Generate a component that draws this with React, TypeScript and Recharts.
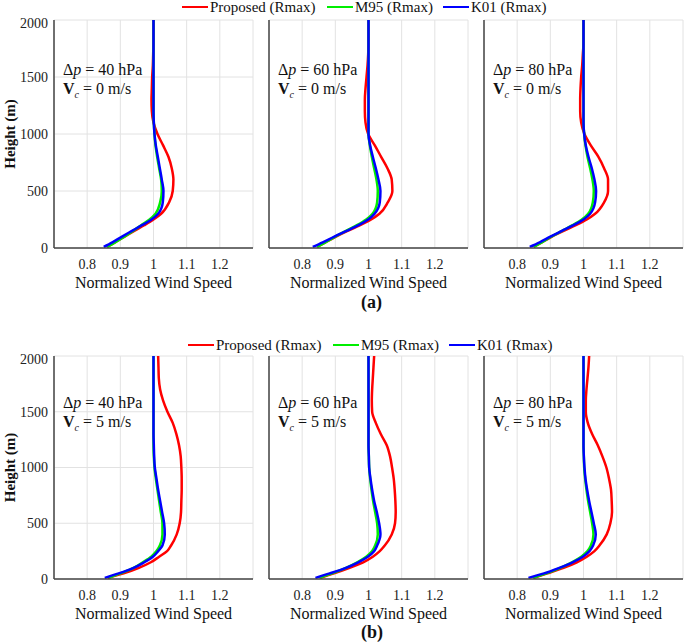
import React from "react";
import { LineChart, Line, XAxis, YAxis, CartesianGrid, Label } from "recharts";

const HEIGHTS = [10, 50, 100, 150, 200, 250, 300, 400, 500, 600, 700, 800, 900, 1000, 1100, 1200, 1300, 1400, 1500, 1600, 1700, 1800, 1900, 2000];

const SPEED_TICKS = [0.8, 0.9, 1, 1.1, 1.2];
const HEIGHT_TICKS = [0, 500, 1000, 1500, 2000];
const DP_LABELS = [40, 60, 80];
const VC_LABELS = [0, 5];
const ROW_TAGS = ["(a)", "(b)"];
const SERIES_NAMES = ["Proposed (Rmax)", "M95 (Rmax)", "K01 (Rmax)"];
const SERIES_COLORS = ["#ff0000", "#00ee00", "#0000ff"];

// (a) Vc = 0 m/s
const proposed40v0 = [0.86, 0.884, 0.913, 0.942, 0.972, 1.0, 1.023, 1.047, 1.058, 1.06, 1.055, 1.045, 1.029, 1.012, 1.0, 0.995, 0.994, 0.995, 0.996, 0.998, 0.999, 1.0, 1.0, 1.0];
const m95_40v0 = [0.86, 0.884, 0.912, 0.938, 0.963, 0.988, 1.006, 1.02, 1.025, 1.023, 1.017, 1.011, 1.006, 1.003, 1.001, 1.0, 1.0, 1.0, 1.0, 1.0, 1.0, 1.0, 1.0, 1.0];
const k01_40v0 = [0.85, 0.876, 0.905, 0.935, 0.965, 0.994, 1.014, 1.028, 1.03, 1.025, 1.019, 1.013, 1.007, 1.003, 1.001, 1.0, 1.0, 1.0, 1.0, 1.0, 1.0, 1.0, 1.0, 1.0];

const proposed60v0 = [0.845, 0.87, 0.902, 0.937, 0.975, 1.008, 1.033, 1.058, 1.072, 1.07, 1.057, 1.038, 1.019, 0.999, 0.991, 0.989, 0.989, 0.991, 0.994, 0.997, 0.999, 1.0, 1.0, 1.0];
const m95_60v0 = [0.845, 0.87, 0.9, 0.932, 0.965, 0.993, 1.012, 1.026, 1.028, 1.024, 1.017, 1.01, 1.004, 1.0, 1.0, 1.0, 1.0, 1.0, 1.0, 1.0, 1.0, 1.0, 1.0, 1.0];
const k01_60v0 = [0.832, 0.862, 0.897, 0.934, 0.97, 0.999, 1.018, 1.034, 1.036, 1.03, 1.022, 1.013, 1.005, 1.0, 1.0, 1.0, 1.0, 1.0, 1.0, 1.0, 1.0, 1.0, 1.0, 1.0];

const proposed80v0 = [0.85, 0.874, 0.905, 0.94, 0.977, 1.01, 1.035, 1.062, 1.074, 1.074, 1.062, 1.045, 1.022, 1.003, 0.993, 0.99, 0.99, 0.991, 0.993, 0.996, 0.998, 1.0, 1.0, 1.0];
const m95_80v0 = [0.85, 0.874, 0.903, 0.935, 0.967, 0.995, 1.014, 1.028, 1.031, 1.027, 1.02, 1.012, 1.006, 1.002, 1.0, 1.0, 1.0, 1.0, 1.0, 1.0, 1.0, 1.0, 1.0, 1.0];
const k01_80v0 = [0.838, 0.868, 0.9, 0.935, 0.97, 1.0, 1.02, 1.035, 1.038, 1.033, 1.025, 1.015, 1.007, 1.002, 1.0, 1.0, 1.0, 1.0, 1.0, 1.0, 1.0, 1.0, 1.0, 1.0];

// (b) Vc = 5 m/s
const proposed40v5 = [0.862, 0.91, 0.956, 0.992, 1.017, 1.041, 1.053, 1.07, 1.079, 1.083, 1.084, 1.085, 1.085, 1.084, 1.082, 1.077, 1.069, 1.058, 1.042, 1.029, 1.02, 1.016, 1.015, 1.014];
const m95_40v5 = [0.865, 0.9, 0.94, 0.968, 0.993, 1.009, 1.019, 1.027, 1.027, 1.022, 1.017, 1.012, 1.007, 1.003, 1.001, 1.0, 1.0, 1.0, 1.0, 1.0, 1.0, 1.0, 1.0, 1.0];
const k01_40v5 = [0.853, 0.895, 0.94, 0.972, 0.998, 1.014, 1.027, 1.034, 1.032, 1.026, 1.02, 1.014, 1.009, 1.004, 1.002, 1.001, 1.0, 1.0, 1.0, 1.0, 1.0, 1.0, 1.0, 1.0];

const proposed60v5 = [0.855, 0.896, 0.943, 0.984, 1.013, 1.034, 1.049, 1.07, 1.08, 1.082, 1.081, 1.079, 1.076, 1.071, 1.065, 1.055, 1.037, 1.022, 1.011, 1.01, 1.011, 1.013, 1.015, 1.017];
const m95_60v5 = [0.852, 0.89, 0.932, 0.966, 0.993, 1.011, 1.02, 1.028, 1.026, 1.02, 1.014, 1.009, 1.005, 1.002, 1.001, 1.0, 1.0, 1.0, 1.0, 1.0, 1.0, 1.0, 1.0, 1.0];
const k01_60v5 = [0.84, 0.883, 0.932, 0.969, 0.998, 1.017, 1.026, 1.036, 1.032, 1.025, 1.017, 1.011, 1.006, 1.002, 1.001, 1.0, 1.0, 1.0, 1.0, 1.0, 1.0, 1.0, 1.0, 1.0];

const proposed80v5 = [0.85, 0.891, 0.94, 0.98, 1.01, 1.033, 1.048, 1.07, 1.081, 1.086, 1.085, 1.083, 1.077, 1.069, 1.057, 1.043, 1.026, 1.013, 1.007, 1.007, 1.009, 1.012, 1.015, 1.017];
const m95_80v5 = [0.848, 0.888, 0.93, 0.965, 0.993, 1.012, 1.022, 1.03, 1.026, 1.02, 1.014, 1.009, 1.005, 1.002, 1.001, 1.0, 1.0, 1.0, 1.0, 1.0, 1.0, 1.0, 1.0, 1.0];
const k01_80v5 = [0.834, 0.881, 0.927, 0.967, 0.998, 1.018, 1.029, 1.037, 1.031, 1.024, 1.017, 1.011, 1.006, 1.003, 1.001, 1.0, 1.0, 1.0, 1.0, 1.0, 1.0, 1.0, 1.0, 1.0];

const PROFILES = [
  [
    [proposed40v0, m95_40v0, k01_40v0],
    [proposed60v0, m95_60v0, k01_60v0],
    [proposed80v0, m95_80v0, k01_80v0],
  ],
  [
    [proposed40v5, m95_40v5, k01_40v5],
    [proposed60v5, m95_60v5, k01_60v5],
    [proposed80v5, m95_80v5, k01_80v5],
  ],
];

const FONT = "Liberation Serif, Tinos, Times New Roman, DejaVu Serif, serif";
const AXIS_COLOR = "#444";
const PLOT_W = 199;
const PLOT_LEFT = [54, 268.5, 484];
const ROW_TOP = [20, 356];
const ROW_H = [228, 223];
const X_H = 44;
const PAD = 5;

function toPoints(vals: number[]) {
  return HEIGHTS.map((h, i) => ({ h, v: vals[i] }));
}

function Panel({ row, col }: { row: number; col: number }) {
  const yW = col === 0 ? 54 : 10;
  const plotH = ROW_H[row];
  const series = PROFILES[row][col];
  return (
    <div style={{ position: "absolute", left: PLOT_LEFT[col] - yW, top: ROW_TOP[row] - PAD }}>
      <LineChart
        layout="vertical"
        width={yW + PLOT_W + PAD}
        height={PAD + plotH + X_H}
        margin={{ top: PAD, right: PAD, bottom: 0, left: 0 }}
        style={{ fontFamily: FONT }}
      >
        <CartesianGrid stroke="#e2e2e2" strokeWidth={1} />
        <XAxis
          type="number"
          domain={[0.7, 1.3]}
          ticks={SPEED_TICKS}
          allowDataOverflow
          tickLine={false}
          tickMargin={5}
          axisLine={{ stroke: AXIS_COLOR, strokeWidth: 1.5 }}
          tick={{ fill: "#222", fontSize: 14, fontFamily: FONT }}
          height={X_H}
        >
          <Label
            value="Normalized Wind Speed"
            position="insideBottom"
            offset={4}
            style={{ fill: "#111", fontSize: 16, fontFamily: FONT }}
          />
        </XAxis>
        <YAxis
          type="number"
          dataKey="h"
          domain={[0, 2000]}
          ticks={HEIGHT_TICKS}
          reversed
          allowDataOverflow
          tickLine={false}
          tickMargin={0}
          tick={col === 0 ? { fill: "#222", fontSize: 14, fontFamily: FONT } : false}
          axisLine={{ stroke: AXIS_COLOR, strokeWidth: 1.5 }}
          width={yW}
        >
          {col === 0 && (
            <Label
              value="Height (m)"
              angle={-90}
              position="center"
              dx={-17}
              style={{ fill: "#111", fontSize: 15, fontWeight: "bold", fontFamily: FONT, textAnchor: "middle" }}
            />
          )}
        </YAxis>
        {series.map((vals, i) => (
          <Line
            key={SERIES_NAMES[i]}
            name={SERIES_NAMES[i]}
            data={toPoints(vals)}
            dataKey="v"
            type="monotoneY"
            stroke={SERIES_COLORS[i]}
            strokeWidth={2.5}
            dot={false}
            isAnimationActive={false}
          />
        ))}
      </LineChart>
    </div>
  );
}

function Legend({ left, top }: { left: number; top: number }) {
  const lineX = [0, 145, 261];
  return (
    <div style={{ position: "absolute", left, top, height: 16 }}>
      {SERIES_NAMES.map((name, i) => (
        <div key={name} style={{ position: "absolute", left: lineX[i], top: 0, display: "flex", alignItems: "center", whiteSpace: "nowrap" }}>
          <span style={{ display: "inline-block", width: 26, height: 2.5, background: SERIES_COLORS[i], marginRight: 2 }} />
          <span style={{ fontSize: 15, lineHeight: "16px", color: "#111" }}>{name}</span>
        </div>
      ))}
    </div>
  );
}

function Note({ left, top, dp, vc }: { left: number; top: number; dp: number; vc: number }) {
  return (
    <div style={{ position: "absolute", left, top, fontSize: 16, lineHeight: "19px", color: "#111", whiteSpace: "nowrap" }}>
      <div>
        Δ<i>p</i> = {dp} hPa
      </div>
      <div>
        <b>V</b>
        <i style={{ fontSize: 10, position: "relative", top: 4 }}>c</i> = {vc} m/s
      </div>
    </div>
  );
}

const NOTE_X = [63, 278, 493];
const NOTE_Y = [60, 393];

export default function App() {
  return (
    <div style={{ position: "absolute", left: 0, top: 0, width: 685, height: 642, background: "#fff", fontFamily: FONT, overflow: "hidden" }}>
      {[0, 1].map((row) => (
        <React.Fragment key={row}>
          {[0, 1, 2].map((col) => (
            <Panel key={col} row={row} col={col} />
          ))}
          {[0, 1, 2].map((col) => (
            <Note key={"n" + col} left={NOTE_X[col]} top={NOTE_Y[row]} dp={DP_LABELS[col]} vc={VC_LABELS[row]} />
          ))}
        </React.Fragment>
      ))}
      <Legend left={182} top={-1} />
      <Legend left={188} top={337} />
      {ROW_TAGS.map((tag, row) => (
        <div key={tag} style={{ position: "absolute", left: 361, top: row === 0 ? 291 : 621, fontSize: 18, lineHeight: "22px", fontWeight: "bold", color: "#111" }}>
          {tag}
        </div>
      ))}
    </div>
  );
}
